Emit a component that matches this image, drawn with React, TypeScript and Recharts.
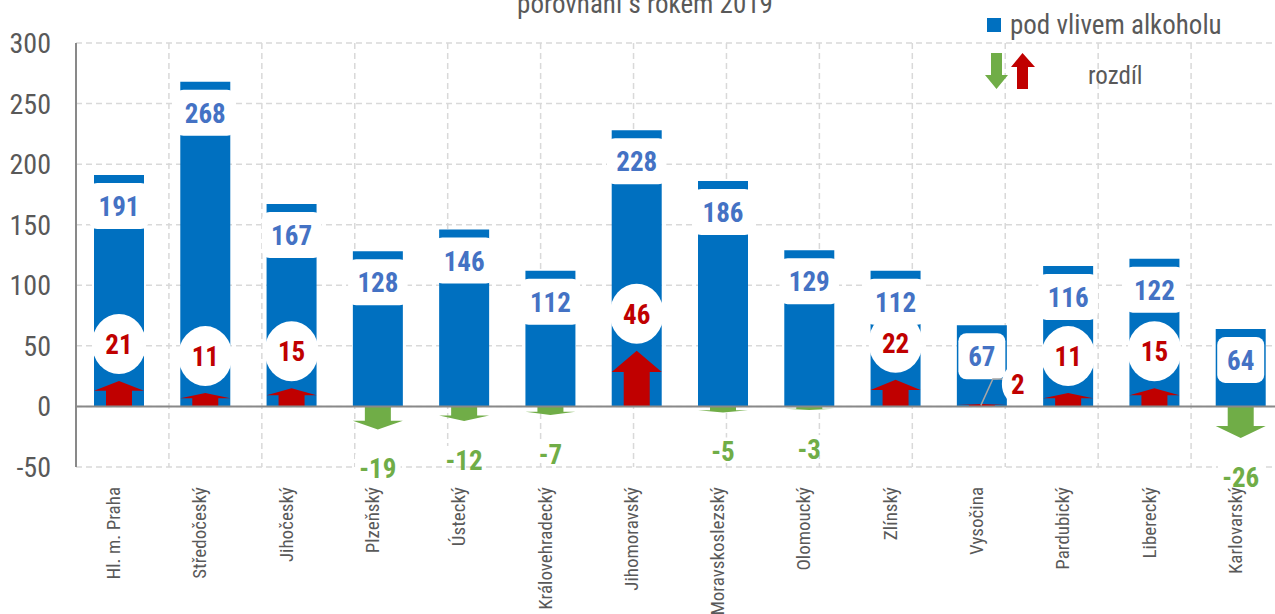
import React from "react";
import {
  ComposedChart,
  Bar,
  XAxis,
  YAxis,
  CartesianGrid,
  ReferenceLine,
  LabelList,
} from "recharts";

const categories = [
  "Hl. m. Praha",
  "Středočeský",
  "Jihočeský",
  "Plzeňský",
  "Ústecký",
  "Královehradecký",
  "Jihomoravský",
  "Moravskoslezský",
  "Olomoucký",
  "Zlínský",
  "Vysočina",
  "Pardubický",
  "Liberecký",
  "Karlovarský",
];
const alcoholValues = [191, 268, 167, 128, 146, 112, 228, 186, 129, 112, 67, 116, 122, 64];
const diffValues = [21, 11, 15, -19, -12, -7, 46, -5, -3, 22, 2, 11, 15, -26];
const yTicks = [-50, 0, 50, 100, 150, 200, 250, 300];
const gridTicks = [0, 1, 2, 3, 4, 5, 6, 7, 8, 9, 10, 11, 12, 13, 14];
const titleText = "porovnání s rokem 2019";
const legendBarText = "pod vlivem alkoholu";
const legendDiffText = "rozdíl";

const data = categories.map((name, i) => ({
  name,
  value: alcoholValues[i],
  diff: diffValues[i],
}));

const BLUE = "#0070C0";
const LABEL_BLUE = "#4472C4";
const RED = "#C00000";
const GREEN = "#70AD47";
const GRAY_TEXT = "#595959";
const FONT =
  "'Liberation Sans Narrow', 'Arial Narrow', 'Roboto Condensed', 'Liberation Sans', Arial, sans-serif";

function box(props: any) {
  const vb = props.viewBox || {};
  const x = props.x ?? vb.x;
  const y = props.y ?? vb.y;
  const width = props.width ?? vb.width;
  const height = props.height ?? vb.height;
  const top = Math.min(y, y + height);
  const bottom = Math.max(y, y + height);
  return { x, width, top, bottom };
}

const ArrowShape = (props: any) => {
  const { payload } = props;
  const { x, width, top, bottom } = box(props);
  const d = payload.diff;
  const len = bottom - top;
  const cx = x + width / 2;
  const sw = width * 0.52;
  const hh = len * 0.38;
  let pts: number[][];
  if (d >= 0) {
    pts = [
      [cx, top],
      [x + width, top + hh],
      [cx + sw / 2, top + hh],
      [cx + sw / 2, bottom],
      [cx - sw / 2, bottom],
      [cx - sw / 2, top + hh],
      [x, top + hh],
    ];
  } else {
    pts = [
      [cx, bottom],
      [x + width, bottom - hh],
      [cx + sw / 2, bottom - hh],
      [cx + sw / 2, top],
      [cx - sw / 2, top],
      [cx - sw / 2, bottom - hh],
      [x, bottom - hh],
    ];
  }
  return (
    <polygon
      points={pts.map((p) => p.join(",")).join(" ")}
      fill={d >= 0 ? RED : GREEN}
    />
  );
};

const ValueLabel = (props: any) => {
  const { value } = props;
  const { x, width, top } = box(props);
  const cx = x + width / 2;
  const txt = String(value);
  const bw = txt.length * 12.5 + 22;
  const bt = top + 8;
  const bh = 46;
  return (
    <g>
      <rect x={cx - bw / 2} y={bt} width={bw} height={bh} rx={8} ry={8} fill="#ffffff" />
      <text
        x={cx}
        y={bt + bh / 2 + 1}
        textAnchor="middle"
        dominantBaseline="central"
        fill={LABEL_BLUE}
        fontFamily={FONT}
        fontWeight="bold"
        fontSize={27}
      >
        {txt}
      </text>
    </g>
  );
};

const DiffLabel = (props: any) => {
  const { value, index } = props;
  const { x, width, top, bottom } = box(props);
  const cx = x + width / 2;
  const txt = String(value);
  if (value >= 0) {
    const scale = (bottom - top) / Math.max(value, 0.0001);
    const valueTop = bottom - data[index].value * scale;
    const boxBottom = valueTop + 8 + 46;
    let cy = top - 37;
    let lx = cx;
    let leader = null;
    if (cy < boxBottom) {
      lx = cx + 36;
      cy = top - 20;
      leader = (
        <polyline
          points={`${cx - 1},${bottom - 1} ${cx + 11},${cy - 5} ${cx + 21},${cy - 5}`}
          fill="none"
          stroke="#A6A6A6"
          strokeWidth={1.5}
        />
      );
    }
    return (
      <g>
        {leader}
        <ellipse cx={lx} cy={cy} rx={leader ? 16 : 27} ry={leader ? 20 : 30} fill="#ffffff" />
        <text
          x={lx}
          y={cy + 1}
          textAnchor="middle"
          dominantBaseline="central"
          fill={RED}
          fontFamily={FONT}
          fontWeight="bold"
          fontSize={27}
        >
          {txt}
        </text>
      </g>
    );
  }
  const cy = bottom + 39;
  const bw = txt.length * 12.5 + 8;
  return (
    <g>
      <rect x={cx - bw / 2} y={cy - 14} width={bw} height={20} fill="#ffffff" />
      <text
        x={cx}
        y={cy + 1}
        textAnchor="middle"
        dominantBaseline="central"
        fill={GREEN}
        fontFamily={FONT}
        fontWeight="bold"
        fontSize={27}
      >
        {txt}
      </text>
    </g>
  );
};

const CategoryTick = (props: any) => {
  const { x, y, payload } = props;
  const tx = x + 1;
  const ty = y + 12;
  return (
    <text
      x={tx}
      y={ty}
      transform={`rotate(-90, ${tx}, ${ty})`}
      textAnchor="end"
      fill={GRAY_TEXT}
      fontFamily={FONT}
      fontSize={19}
    >
      {payload.value}
    </text>
  );
};

const LegendArrows = () => (
  <svg width={52} height={38} style={{ display: "block" }}>
    <polygon points="6,0 17,0 17,22 23,22 11.5,36 0,22 6,22" fill={GREEN} />
    <polygon points="32,36 43,36 43,14 50,14 37.5,0 26,14 32,14" fill={RED} />
  </svg>
);

export default function App() {
  return (
    <div
      style={{
        position: "absolute",
        left: 0,
        top: 0,
        width: 1275,
        height: 614,
        overflow: "hidden",
        background: "#ffffff",
      }}
    >
      <ComposedChart
        width={1290}
        height={614}
        data={data}
        margin={{ top: 43, right: 6, left: 0, bottom: 0 }}
      >
        <XAxis xAxisId="g" type="number" domain={[0, 14]} ticks={gridTicks} allowDataOverflow hide height={0} />
        <CartesianGrid
          xAxisId="g"
          stroke="#D9D9D9"
          strokeWidth={1.5}
          strokeDasharray="6 4"
        />
        <XAxis
          xAxisId="v"
          dataKey="name"
          height={147}
          axisLine={false}
          tickLine={false}
          interval={0}
          tick={<CategoryTick />}
        />
        <XAxis xAxisId="d" dataKey="name" hide height={0} />
        <YAxis
          domain={[-50, 300]}
          ticks={yTicks}
          width={76}
          tickLine={false}
          tickSize={0}
          tickMargin={25}
          axisLine={{ stroke: "#898989", strokeWidth: 2 }}
          tick={{ fill: GRAY_TEXT, fontSize: 28, fontFamily: FONT }}
        />
        <ReferenceLine y={0} xAxisId="v" stroke="#898989" strokeWidth={2} />
        <Bar xAxisId="v" dataKey="value" fill={BLUE} barSize={50} isAnimationActive={false}>
          <LabelList dataKey="value" content={<ValueLabel />} />
        </Bar>
        <Bar xAxisId="d" dataKey="diff" barSize={50} shape={<ArrowShape />} isAnimationActive={false}>
          <LabelList dataKey="diff" content={<DiffLabel />} />
        </Bar>
      </ComposedChart>
      <div
        style={{
          position: "absolute",
          left: 0,
          top: -12,
          width: 1290,
          textAlign: "center",
          fontFamily: FONT,
          fontSize: 27,
          color: GRAY_TEXT,
        }}
      >
        {titleText}
      </div>
      <div
        style={{
          position: "absolute",
          left: 987,
          top: 9,
          display: "flex",
          alignItems: "center",
          fontFamily: FONT,
          fontSize: 27,
          color: GRAY_TEXT,
          whiteSpace: "nowrap",
        }}
      >
        <span style={{ width: 14, height: 14, background: BLUE, display: "inline-block", marginRight: 9 }} />
        <span>{legendBarText}</span>
      </div>
      <div style={{ position: "absolute", left: 985, top: 53 }}>
        <LegendArrows />
      </div>
      <div
        style={{
          position: "absolute",
          left: 1088,
          top: 61,
          fontFamily: FONT,
          fontSize: 25,
          color: GRAY_TEXT,
          whiteSpace: "nowrap",
        }}
      >
        {legendDiffText}
      </div>
    </div>
  );
}
